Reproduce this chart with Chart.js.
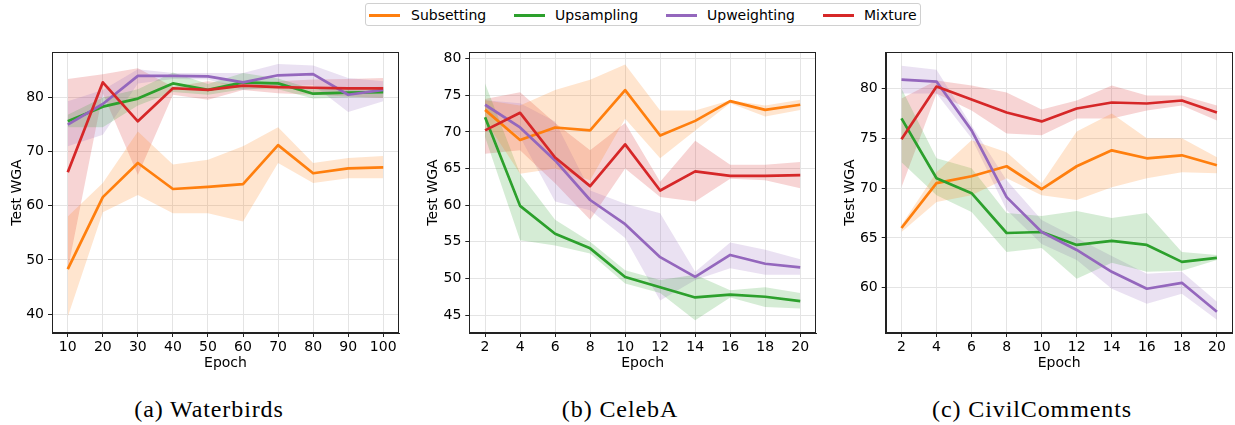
<!DOCTYPE html>
<html>
<head>
<meta charset="utf-8">
<script src="https://cdn.jsdelivr.net/npm/chart.js@4.4.1/dist/chart.umd.min.js"></script>
<style>
  html, body { margin: 0; padding: 0; background: #fff; }
  #wrap { position: relative; width: 1235px; height: 425px; overflow: hidden; background: #fff; }
  canvas { position: absolute; top: 35px; }
  #legend { position: absolute; left: 365px; top: 3px; width: 556px; height: 23px; border: 1px solid #d0d0d0; border-radius: 3px;
            box-sizing: border-box; font-family: "DejaVu Sans"; font-size: 14px; color: #000; }
  .item { position: absolute; top: 0; height: 22px; line-height: 22px; }
  .swatch { position: absolute; top: 10px; width: 31px; height: 2.6px; }
  .cap { position: absolute; top: 397px; font-family: "Liberation Serif"; font-size: 24px; line-height: 24px; letter-spacing: 0.9px;
         transform: translateX(-50%); white-space: nowrap; color: #000; }
</style>
</head>
<body>
<div id="wrap">
  <div id="legend"></div>
  <canvas id="c1" width="412" height="345" style="left:0px"></canvas>
  <canvas id="c2" width="412" height="345" style="left:412px"></canvas>
  <canvas id="c3" width="411" height="345" style="left:824px"></canvas>
  <div class="cap" style="left:209px">(a) Waterbirds</div>
  <div class="cap" style="left:620px">(b) CelebA</div>
  <div class="cap" style="left:1032px">(c) CivilComments</div>
</div>
<script>
// ---------------- DATA ----------------
const methods = ['Subsetting', 'Upsampling', 'Upweighting', 'Mixture'];

// (a) Waterbirds
const wbEpochs = [10, 20, 30, 40, 50, 60, 70, 80, 90, 100];
const wbXTicks = [10, 20, 30, 40, 50, 60, 70, 80, 90, 100];
const wbYTicks = [40, 50, 60, 70, 80];
const wbSub   = [48.3, 61.6, 67.9, 63.1, 63.5, 64.0, 71.2, 66.0, 66.9, 67.1];
const wbSubLo = [39.5, 58.8, 62.0, 58.6, 58.6, 57.1, 67.9, 64.2, 65.1, 65.1];
const wbSubHi = [58.0, 64.2, 73.7, 67.6, 68.5, 71.0, 74.5, 67.9, 68.8, 69.2];
const wbUps   = [75.6, 78.3, 79.8, 82.6, 81.4, 82.8, 82.6, 80.7, 80.9, 81.0];
const wbUpsLo = [74.5, 74.5, 78.5, 81.0, 80.5, 81.5, 81.5, 79.8, 80.0, 80.0];
const wbUpsHi = [76.8, 80.0, 81.5, 84.6, 82.5, 84.5, 83.5, 81.5, 81.8, 82.0];
const wbUpw   = [75.0, 78.8, 84.0, 84.0, 83.9, 82.8, 84.1, 84.3, 80.5, 81.4];
const wbUpwLo = [71.0, 73.1, 82.6, 83.4, 83.3, 81.4, 82.0, 82.3, 77.3, 79.3];
const wbUpwHi = [79.3, 81.4, 85.2, 84.5, 84.5, 84.5, 86.2, 85.9, 83.6, 83.0];
const wbMix   = [66.2, 82.8, 75.6, 81.7, 81.4, 82.2, 81.9, 81.8, 81.7, 81.7];
const wbMixLo = [48.2, 80.8, 65.7, 80.5, 79.6, 81.4, 80.8, 80.5, 80.2, 79.9];
const wbMixHi = [83.4, 84.3, 85.4, 82.0, 83.0, 82.3, 83.0, 83.3, 83.4, 83.6];

// (b) CelebA
const celEpochs = [2, 4, 6, 8, 10, 12, 14, 16, 18, 20];
const celXTicks = [2, 4, 6, 8, 10, 12, 14, 16, 18, 20];
const celYTicks = [45, 50, 55, 60, 65, 70, 75, 80];
const celSub   = [73.0, 68.9, 70.6, 70.2, 75.7, 69.5, 71.5, 74.2, 73.0, 73.7];
const celSubLo = [71.6, 64.3, 65.0, 63.4, 71.8, 66.4, 70.2, 73.9, 72.1, 73.0];
const celSubHi = [74.3, 73.6, 75.7, 77.1, 79.2, 72.9, 72.9, 74.3, 73.6, 74.4];
const celUps   = [72.0, 59.9, 56.1, 54.1, 50.2, 48.8, 47.4, 47.8, 47.5, 46.9];
const celUpsLo = [69.3, 55.2, 54.5, 53.4, 49.3, 48.0, 44.3, 47.4, 46.1, 45.9];
const celUpsHi = [76.6, 64.3, 58.0, 55.0, 51.1, 49.8, 50.5, 48.4, 48.8, 48.0];
const celUpw   = [73.7, 70.6, 66.1, 60.7, 57.4, 52.9, 50.2, 53.2, 52.0, 51.5];
const celUpwLo = [73.0, 69.3, 60.5, 59.3, 55.5, 47.0, 49.8, 51.4, 50.5, 50.5];
const celUpwHi = [74.3, 73.9, 71.4, 62.0, 60.2, 58.9, 50.9, 54.9, 53.9, 52.6];
const celMix   = [70.2, 72.6, 66.5, 62.6, 68.3, 62.0, 64.6, 64.0, 64.0, 64.1];
const celMixLo = [67.0, 67.5, 63.0, 58.0, 65.0, 61.1, 60.5, 63.6, 63.4, 62.3];
const celMixHi = [74.5, 75.4, 71.2, 67.5, 71.2, 63.2, 68.8, 65.5, 65.5, 65.9];

// (c) CivilComments
const civEpochs = [2, 4, 6, 8, 10, 12, 14, 16, 18, 20];
const civXTicks = [2, 4, 6, 8, 10, 12, 14, 16, 18, 20];
const civYTicks = [60, 65, 70, 75, 80];
const civSub   = [66.0, 70.5, 71.2, 72.2, 69.9, 72.2, 73.8, 73.0, 73.3, 72.3];
const civSubLo = [65.6, 68.6, 69.3, 71.0, 69.3, 68.8, 70.1, 71.0, 71.6, 71.5];
const civSubHi = [66.3, 71.6, 74.8, 73.6, 70.5, 75.7, 77.5, 75.0, 75.0, 73.1];
const civUps   = [77.0, 71.0, 69.5, 65.5, 65.6, 64.3, 64.7, 64.3, 62.6, 63.0];
const civUpsLo = [72.6, 69.3, 67.6, 63.6, 64.0, 60.9, 62.5, 61.6, 61.7, 62.8];
const civUpsHi = [80.0, 73.0, 72.0, 67.5, 67.2, 67.7, 67.0, 67.5, 63.6, 63.3];
const civUpw   = [80.9, 80.7, 75.8, 69.1, 65.6, 63.8, 61.6, 59.9, 60.5, 57.6];
const civUpwLo = [79.5, 79.5, 75.0, 67.8, 64.4, 62.8, 59.9, 58.4, 59.4, 56.8];
const civUpwHi = [82.3, 81.9, 76.3, 70.8, 66.8, 65.0, 63.2, 61.4, 61.6, 58.6];
const civMix   = [74.9, 80.2, 78.9, 77.6, 76.7, 78.0, 78.6, 78.5, 78.8, 77.6];
const civMixLo = [70.1, 79.5, 77.8, 75.5, 75.3, 77.0, 77.0, 77.8, 78.3, 76.8];
const civMixHi = [79.0, 80.8, 80.3, 79.6, 77.9, 78.8, 80.3, 79.3, 79.3, 78.3];

// ---------------- STYLE ----------------
const colors = { Subsetting: [255,127,14], Upsampling: [44,160,44], Upweighting: [148,103,189], Mixture: [214,39,40] };
const rgba = (c, a) => `rgba(${c[0]},${c[1]},${c[2]},${a})`;
const FONT = { family: 'DejaVu Sans', size: 14 };

// legend (HTML)
const legendEl = document.getElementById('legend');
const legendPos = [[3, 45], [148, 189], [300, 341], [457, 498]];
methods.forEach((m, i) => {
  const sw = document.createElement('div');
  sw.className = 'swatch';
  sw.style.left = legendPos[i][0] + 'px';
  sw.style.background = rgba(colors[m], 1);
  legendEl.appendChild(sw);
  const t = document.createElement('div');
  t.className = 'item';
  t.style.left = legendPos[i][1] + 'px';
  t.textContent = m;
  legendEl.appendChild(t);
});

const framePlugin = {
  id: 'frame',
  afterDatasetsDraw(chart) {
    const { ctx, chartArea: a } = chart;
    ctx.save();
    ctx.strokeStyle = '#222';
    ctx.lineWidth = 1;
    ctx.strokeRect(Math.round(a.left) + 0.5, Math.round(a.top) + 0.5,
                   Math.round(a.right) - Math.round(a.left) - 1, Math.round(a.bottom) - Math.round(a.top) - 1);
    ctx.restore();
  }
};

function pts(xs, ys) { return xs.map((x, i) => ({ x: x, y: ys[i] })); }

function makeChart(id, xs, series, cfg) {
  const datasets = [];
  series.forEach(s => {
    datasets.push({ label: s.name + ' lo', data: pts(xs, s.lo), borderWidth: 0, borderColor: 'rgba(0,0,0,0)',
                    pointRadius: 0, fill: false, order: 10 });
    datasets.push({ label: s.name + ' hi', data: pts(xs, s.hi), borderWidth: 0, borderColor: 'rgba(0,0,0,0)',
                    pointRadius: 0, fill: '-1', backgroundColor: rgba(colors[s.name], 0.2), order: 10 });
  });
  series.forEach((s, i) => {
    datasets.push({ label: s.name, data: pts(xs, s.mean), borderColor: rgba(colors[s.name], 1), borderWidth: 2.7,
                    pointRadius: 0, fill: false, tension: 0, order: 4 - i, borderJoinStyle: 'round', borderCapStyle: 'butt' });
  });
  const grid = { color: '#e4e4e4', lineWidth: 1, drawTicks: true, tickLength: 4, tickColor: '#222' };
  return new Chart(document.getElementById(id), {
    type: 'line',
    data: { datasets },
    plugins: [framePlugin],
    options: {
      responsive: false, maintainAspectRatio: false, animation: false, devicePixelRatio: 1,
      layout: { padding: { top: 17, right: cfg.padRight, left: 0, bottom: 0 } },
      plugins: { legend: { display: false }, tooltip: { enabled: false } },
      scales: {
        x: {
          type: 'linear', min: cfg.xMin, max: cfg.xMax,
          afterBuildTicks: ax => { ax.ticks = cfg.xTicks.map(v => ({ value: v })); },
          afterFit: ax => { ax.height = 47; },
          grid, border: { display: true, color: '#222', width: 1 },
          ticks: { font: FONT, color: '#000', padding: 2, maxRotation: 0, autoSkip: false },
          title: { display: true, text: 'Epoch', font: FONT, color: '#000', padding: { top: 0, bottom: 8.6 } }
        },
        y: {
          type: 'linear', min: cfg.yMin, max: cfg.yMax,
          afterBuildTicks: ax => { ax.ticks = cfg.yTicks.map(v => ({ value: v })); },
          afterFit: ax => { ax.width = cfg.yWidth; },
          grid, border: { display: true, color: '#222', width: 1 },
          ticks: { font: FONT, color: '#000', padding: 4, autoSkip: false },
          title: { display: true, text: 'Test WGA', font: FONT, color: '#000', padding: { top: cfg.titlePad, bottom: 0 } }
        }
      }
    }
  });
}

makeChart('c1', wbEpochs, [
  { name: 'Subsetting', mean: wbSub, lo: wbSubLo, hi: wbSubHi },
  { name: 'Upsampling', mean: wbUps, lo: wbUpsLo, hi: wbUpsHi },
  { name: 'Upweighting', mean: wbUpw, lo: wbUpwLo, hi: wbUpwHi },
  { name: 'Mixture', mean: wbMix, lo: wbMixLo, hi: wbMixHi }
], { xMin: 5.5, xMax: 104.5, yMin: 36.5, yMax: 88.4, xTicks: wbXTicks, yTicks: wbYTicks, yWidth: 52, padRight: 13, titlePad: 9.1 });

makeChart('c2', celEpochs, [
  { name: 'Subsetting', mean: celSub, lo: celSubLo, hi: celSubHi },
  { name: 'Upsampling', mean: celUps, lo: celUpsLo, hi: celUpsHi },
  { name: 'Upweighting', mean: celUpw, lo: celUpwLo, hi: celUpwHi },
  { name: 'Mixture', mean: celMix, lo: celMixLo, hi: celMixHi }
], { xMin: 1.1, xMax: 20.9, yMin: 42.55, yMax: 80.9, xTicks: celXTicks, yTicks: celYTicks, yWidth: 57.3, padRight: 8, titlePad: 13 });

makeChart('c3', civEpochs, [
  { name: 'Subsetting', mean: civSub, lo: civSubLo, hi: civSubHi },
  { name: 'Upsampling', mean: civUps, lo: civUpsLo, hi: civUpsHi },
  { name: 'Upweighting', mean: civUpw, lo: civUpwLo, hi: civUpwHi },
  { name: 'Mixture', mean: civMix, lo: civMixLo, hi: civMixHi }
], { xMin: 1.1, xMax: 20.9, yMin: 55.46, yMax: 83.67, xTicks: civXTicks, yTicks: civYTicks, yWidth: 61.7, padRight: 2.3, titlePad: 17.6 });
</script>
</body>
</html>
